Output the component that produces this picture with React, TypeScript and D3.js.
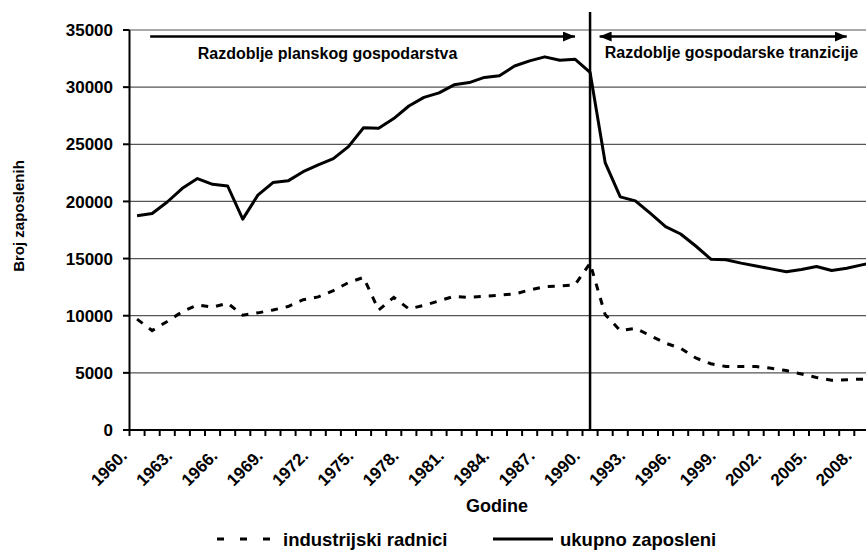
import React from 'react';
import * as d3 from 'd3';

// categories (godine)
const years: string[] = [
  '1960', '1961', '1962', '1963', '1964', '1965', '1966', '1967', '1968', '1969',
  '1970', '1971', '1972', '1973', '1974', '1975', '1976', '1977', '1978', '1979',
  '1980', '1981', '1982', '1983', '1984', '1985', '1986', '1987', '1988', '1989',
  '1990', '1991', '1992', '1993', '1994', '1995', '1996', '1997', '1998', '1999',
  '2000', '2001', '2002', '2003', '2004', '2005', '2006', '2007', '2008', '2009',
];

// ukupno zaposleni
const totalEmployed: number[] = [
  18750, 18950, 19950, 21150, 22000, 21500, 21350, 18450, 20550, 21650,
  21800, 22600, 23200, 23750, 24800, 26450, 26400, 27250, 28350, 29100,
  29500, 30200, 30400, 30850, 31000, 31850, 32300, 32650, 32350, 32450,
  31300, 23400, 20400, 20050, 18950, 17800, 17150, 16100, 14950, 14900,
  14600, 14350, 14100, 13850, 14050, 14300, 13950, 14150, 14450, 14700,
];

// industrijski radnici
const industrialWorkers: number[] = [
  9700, 8700, 9500, 10350, 10950, 10750, 11100, 10050, 10250, 10500,
  10800, 11400, 11650, 12200, 12900, 13350, 10500, 11600, 10600, 10900,
  11300, 11700, 11600, 11700, 11800, 11900, 12250, 12550, 12600, 12700,
  14600, 10100, 8700, 8900, 8250, 7600, 7150, 6300, 5800, 5550,
  5550, 5550, 5400, 5200, 4900, 4600, 4350, 4400, 4450, 4450,
];

const yTicks: number[] = [0, 5000, 10000, 15000, 20000, 25000, 30000, 35000];
const labelYears: string[] = years.filter((_, i) => i % 3 === 0);

const W = 866;
const H = 550;
const FONT = '"Liberation Sans", Arial, sans-serif';

export default function App() {
  const x = d3.scaleBand<string>().domain(years).range([129.5, 129.5 + 50 * 15.1]).padding(0);
  const y = d3.scaleLinear().domain([0, 35000]).range([430, 30]);
  const cx = (yr: string) => (x(yr) as number) + x.bandwidth() / 2;

  const line = d3.line<number>()
    .x((_, i) => cx(years[i]))
    .y(d => y(d));

  const boundaries = d3.range(years.length + 1).map(i => 129.5 + i * x.bandwidth());
  const split = cx('1990');

  return (
    <svg width={W} height={H} style={{ position: 'absolute', left: 0, top: 0, background: '#fff' }}
      fontFamily={FONT} fontWeight="bold">
      <defs>
        <marker id="arr" markerUnits="userSpaceOnUse" markerWidth={12} markerHeight={10}
          refX={12} refY={5} orient="auto-start-reverse">
          <path d="M0,0 L12,5 L0,10 Z" fill="#000" />
        </marker>
      </defs>

      {/* grid */}
      {yTicks.filter(t => t > 0).map(t => (
        <line key={t} x1={129.5} x2={W} y1={y(t)} y2={y(t)} stroke="#555" strokeWidth={1.2} />
      ))}

      {/* y axis */}
      <line x1={129.5} x2={129.5} y1={y(35000)} y2={y(0)} stroke="#000" strokeWidth={2} />
      {yTicks.map(t => (
        <g key={t}>
          <line x1={123} x2={129.5} y1={y(t)} y2={y(t)} stroke="#000" strokeWidth={2} />
          <text x={113} y={y(t)} dy="0.36em" textAnchor="end" fontSize={17}>{t}</text>
        </g>
      ))}

      {/* x axis */}
      <line x1={129.5} x2={W} y1={y(0)} y2={y(0)} stroke="#000" strokeWidth={2} />
      {boundaries.map((b, i) => (
        <line key={i} x1={b} x2={b} y1={y(0)} y2={y(0) + 6} stroke="#000" strokeWidth={2} />
      ))}
      {labelYears.map(yr => (
        <text key={yr} transform={`translate(${cx(yr) - 9},${457}) rotate(-45)`}
          textAnchor="end" fontSize={17}>{yr}.</text>
      ))}

      {/* series */}
      <path d={line(industrialWorkers) || ''} fill="none" stroke="#000" strokeWidth={3}
        strokeDasharray="7,8" />
      <path d={line(totalEmployed) || ''} fill="none" stroke="#000" strokeWidth={3}
        strokeLinejoin="round" />

      {/* period divider */}
      <line x1={split} x2={split} y1={12} y2={y(0)} stroke="#000" strokeWidth={2.5} />

      {/* period arrows */}
      <line x1={cx('1961') - 2} x2={cx('1989')} y1={36.5} y2={36.5} stroke="#000" strokeWidth={2.5}
        markerEnd="url(#arr)" />
      <text x={327.5} y={59} textAnchor="middle" fontSize={16}>Razdoblje planskog gospodarstva</text>
      <line x1={x('1991') as number + 2} x2={cx('2007')} y1={36.5} y2={36.5} stroke="#000" strokeWidth={2.5}
        markerStart="url(#arr)" markerEnd="url(#arr)" />
      <text x={731.5} y={57.5} textAnchor="middle" fontSize={16}>Razdoblje gospodarske tranzicije</text>

      {/* axis titles */}
      <text transform="translate(24,216) rotate(-90)" textAnchor="middle" fontSize={15}>Broj zaposlenih</text>
      <text x={497} y={511.5} textAnchor="middle" fontSize={18}>Godine</text>

      {/* legend */}
      <line x1={217} x2={271} y1={539} y2={539} stroke="#000" strokeWidth={3} strokeDasharray="7,16" />
      <text x={283} y={546} fontSize={18.5}>industrijski radnici</text>
      <line x1={493} x2={553} y1={539} y2={539} stroke="#000" strokeWidth={3} />
      <text x={560} y={546} fontSize={18.5}>ukupno zaposleni</text>
    </svg>
  );
}
